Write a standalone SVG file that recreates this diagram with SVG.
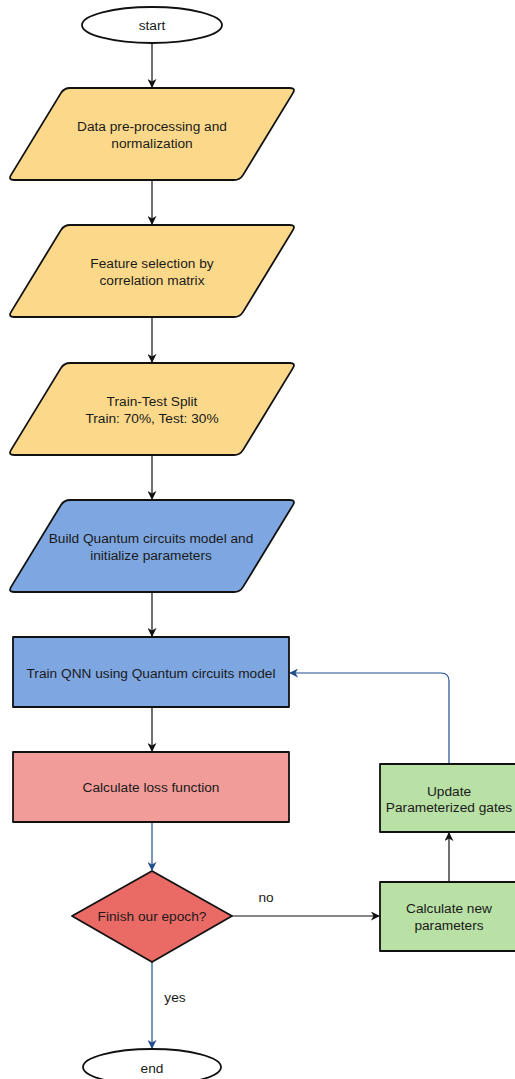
<svg xmlns="http://www.w3.org/2000/svg" width="515" height="1079" viewBox="0 0 515 1079">
  <style>
    .shape { stroke: #111; stroke-width: 1.8; stroke-linejoin: round; }
    .yellow { fill: #fcd98a; }
    .blue { fill: #7ea6e0; }
    .pink { fill: #f19c99; }
    .red { fill: #ea6b66; }
    .green { fill: #b9e0a5; }
    .term { fill: #ffffff; }
    .lbl { font-family: "Liberation Sans", Arial, sans-serif; font-size: 13.7px; fill: #1a1a1a; text-anchor: middle; }
    .edge { fill: none; stroke-width: 1.2; }
    .blk { stroke: #111; }
    .bl { stroke: #1f4e8c; }
  </style>
  <defs>
    <path id="para" d="M70,0 L290,0 Q296,0 292.9,5.1 L243.1,86.9 Q240,92 234,92 L14,92 Q8,92 11.1,86.9 L60.9,5.1 Q64,0 70,0 Z"/>
    <marker id="arrBlk" viewBox="0 0 10 10" refX="9" refY="5" markerWidth="9" markerHeight="9" markerUnits="userSpaceOnUse" orient="auto">
      <path d="M0,0 L10,5 L0,10 L3,5 Z" fill="#111"/>
    </marker>
    <marker id="arrBl" viewBox="0 0 10 10" refX="9" refY="5" markerWidth="9" markerHeight="9" markerUnits="userSpaceOnUse" orient="auto">
      <path d="M0,0 L10,5 L0,10 L3,5 Z" fill="#1f4e8c"/>
    </marker>
  </defs>

  <g id="connectors">
    <line class="edge blk" x1="152" y1="43" x2="152" y2="87" marker-end="url(#arrBlk)"/>
    <line class="edge blk" x1="152" y1="180" x2="152" y2="224" marker-end="url(#arrBlk)"/>
    <line class="edge blk" x1="152" y1="317" x2="152" y2="362" marker-end="url(#arrBlk)"/>
    <line class="edge blk" x1="152" y1="454" x2="152" y2="499" marker-end="url(#arrBlk)"/>
    <line class="edge blk" x1="152" y1="592" x2="152" y2="636" marker-end="url(#arrBlk)"/>
    <line class="edge blk" x1="152" y1="707" x2="152" y2="751" marker-end="url(#arrBlk)"/>
    <line class="edge bl" x1="152" y1="822" x2="152" y2="870" marker-end="url(#arrBl)"/>
    <line class="edge bl" x1="152" y1="962" x2="152" y2="1048" marker-end="url(#arrBl)"/>
    <line class="edge blk" x1="232" y1="916" x2="379" y2="916" marker-end="url(#arrBlk)"/>
    <line class="edge blk" x1="449" y1="882" x2="449" y2="833" marker-end="url(#arrBlk)"/>
    <path class="edge bl" d="M449,764 L449,681 Q449,673 441,673 L290,673" marker-end="url(#arrBl)"/>
    <text class="lbl" x="266" y="902">no</text>
    <text class="lbl" x="175" y="1002">yes</text>
  </g>

  <g id="start">
    <ellipse class="shape term" cx="152" cy="25" rx="70" ry="18"/>
    <text class="lbl" x="152" y="30">start</text>
  </g>

  <g id="preprocess">
    <use href="#para" class="shape yellow" transform="translate(0,88)"/>
    <text class="lbl" x="152" y="131">Data pre-processing and</text>
    <text class="lbl" x="152" y="148">normalization</text>
  </g>

  <g id="feature">
    <use href="#para" class="shape yellow" transform="translate(0,225)"/>
    <text class="lbl" x="152" y="268">Feature selection by</text>
    <text class="lbl" x="152" y="285">correlation matrix</text>
  </g>

  <g id="split">
    <use href="#para" class="shape yellow" transform="translate(0,363)"/>
    <text class="lbl" x="152" y="406">Train-Test Split</text>
    <text class="lbl" x="152" y="423">Train: 70%, Test: 30%</text>
  </g>

  <g id="build">
    <use href="#para" class="shape blue" transform="translate(0,500)"/>
    <text class="lbl" x="151" y="543">Build Quantum circuits model and</text>
    <text class="lbl" x="151" y="560">initialize parameters</text>
  </g>

  <g id="train">
    <rect class="shape blue" x="13" y="637" width="276" height="70"/>
    <text class="lbl" x="151" y="678">Train QNN using Quantum circuits model</text>
  </g>

  <g id="loss">
    <rect class="shape pink" x="13" y="752" width="276" height="70"/>
    <text class="lbl" x="151" y="792">Calculate loss function</text>
  </g>

  <g id="decision">
    <polygon class="shape red" points="152,871 232,916 152,962 72,916"/>
    <text class="lbl" x="152" y="921">Finish our epoch?</text>
  </g>

  <g id="calcnew">
    <rect class="shape green" x="380" y="882" width="138" height="69"/>
    <text class="lbl" x="449" y="913">Calculate new</text>
    <text class="lbl" x="449" y="930">parameters</text>
  </g>

  <g id="update">
    <rect class="shape green" x="380" y="764" width="138" height="68"/>
    <text class="lbl" x="449" y="796">Update</text>
    <text class="lbl" x="449" y="812">Parameterized gates</text>
  </g>

  <g id="end">
    <ellipse class="shape term" cx="152" cy="1067" rx="69" ry="18"/>
    <text class="lbl" x="152" y="1073">end</text>
  </g>
</svg>
